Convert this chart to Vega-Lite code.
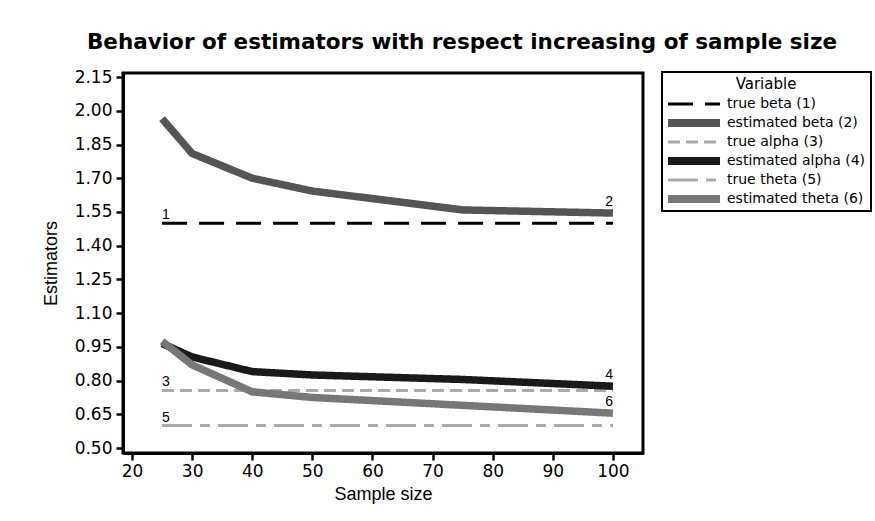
{
  "$schema": "https://vega.github.io/schema/vega-lite/v6.json",
  "width": 520,
  "height": 380,
  "autosize": "none",
  "padding": {"left": 123, "top": 73, "right": 232, "bottom": 68},
  "background": "white",
  "title": {
    "text": "Behavior of estimators with respect increasing of sample size",
    "font": "DejaVu Sans",
    "fontSize": 21.5,
    "fontWeight": "bold",
    "color": "black",
    "anchor": "middle",
    "dx": 79,
    "offset": 15
  },
  "datasets": {
    "lines": [
      {"n": 25, "value": 1.5, "variable": "true beta (1)"},
      {"n": 100, "value": 1.5, "variable": "true beta (1)"},
      {"n": 25, "value": 0.756, "variable": "true alpha (3)"},
      {"n": 100, "value": 0.756, "variable": "true alpha (3)"},
      {"n": 25, "value": 0.6, "variable": "true theta (5)"},
      {"n": 100, "value": 0.6, "variable": "true theta (5)"},
      {"n": 25, "value": 1.965, "variable": "estimated beta (2)"},
      {"n": 30, "value": 1.81, "variable": "estimated beta (2)"},
      {"n": 40, "value": 1.70, "variable": "estimated beta (2)"},
      {"n": 50, "value": 1.643, "variable": "estimated beta (2)"},
      {"n": 75, "value": 1.559, "variable": "estimated beta (2)"},
      {"n": 100, "value": 1.545, "variable": "estimated beta (2)"},
      {"n": 25, "value": 0.965, "variable": "estimated alpha (4)"},
      {"n": 30, "value": 0.905, "variable": "estimated alpha (4)"},
      {"n": 40, "value": 0.84, "variable": "estimated alpha (4)"},
      {"n": 50, "value": 0.825, "variable": "estimated alpha (4)"},
      {"n": 75, "value": 0.805, "variable": "estimated alpha (4)"},
      {"n": 100, "value": 0.775, "variable": "estimated alpha (4)"},
      {"n": 25, "value": 0.975, "variable": "estimated theta (6)"},
      {"n": 30, "value": 0.87, "variable": "estimated theta (6)"},
      {"n": 40, "value": 0.75, "variable": "estimated theta (6)"},
      {"n": 50, "value": 0.725, "variable": "estimated theta (6)"},
      {"n": 75, "value": 0.69, "variable": "estimated theta (6)"},
      {"n": 100, "value": 0.655, "variable": "estimated theta (6)"}
    ],
    "labels": [
      {"n": 25, "value": 1.5, "label": "1"},
      {"n": 100, "value": 1.545, "label": "2"},
      {"n": 25, "value": 0.756, "label": "3"},
      {"n": 100, "value": 0.775, "label": "4"},
      {"n": 25, "value": 0.6, "label": "5"},
      {"n": 100, "value": 0.655, "label": "6"}
    ]
  },
  "encoding": {
    "x": {
      "field": "n",
      "type": "quantitative",
      "scale": {"domain": [18.5, 105], "nice": false, "zero": false},
      "axis": {"values": [20, 30, 40, 50, 60, 70, 80, 90, 100], "title": "Sample size", "labelPadding": 3, "titlePadding": 6}
    },
    "y": {
      "field": "value",
      "type": "quantitative",
      "scale": {"domain": [0.478, 2.168], "nice": false, "zero": false},
      "axis": {
        "values": [0.5, 0.65, 0.8, 0.95, 1.1, 1.25, 1.4, 1.55, 1.7, 1.85, 2.0, 2.15],
        "format": ".2f",
        "title": "Estimators",
        "labelPadding": 4,
        "titlePadding": 14
      }
    }
  },
  "layer": [
    {
      "data": {"name": "lines"},
      "transform": [{"filter": "indexof(datum.variable, 'true') == 0"}],
      "mark": {"type": "line", "strokeWidth": 3},
      "encoding": {
        "color": {
          "field": "variable",
          "type": "nominal",
          "scale": {
            "domain": ["true beta (1)", "estimated beta (2)", "true alpha (3)", "estimated alpha (4)", "true theta (5)", "estimated theta (6)"],
            "range": ["#000000", "#555555", "#aaaaaa", "#1a1a1a", "#aaaaaa", "#777777"]
          },
          "legend": {
            "title": "Variable",
            "encode": {
              "legend": {"update": {"strokeWidth": {"value": 2}}},
              "symbols": {"update": {"strokeWidth": {"signal": "test(/estimated/, datum.value) ? 8 : 3"}, "strokeJoin": {"value": "round"}}}
            }
          }
        },
        "strokeDash": {
          "field": "variable",
          "type": "nominal",
          "scale": {
            "domain": ["true beta (1)", "estimated beta (2)", "true alpha (3)", "estimated alpha (4)", "true theta (5)", "estimated theta (6)"],
            "range": [[25, 12], [1, 0], [12, 6], [1, 0], [30, 8, 10, 8], [1, 0]]
          },
          "legend": {"title": "Variable"}
        }
      }
    },
    {
      "data": {"name": "lines"},
      "transform": [{"filter": "indexof(datum.variable, 'estimated') == 0"}],
      "mark": {"type": "line", "strokeWidth": 7.5},
      "encoding": {
        "color": {"field": "variable", "type": "nominal"},
        "strokeDash": {"field": "variable", "type": "nominal"}
      }
    },
    {
      "data": {"name": "labels"},
      "transform": [{"filter": "datum.n == 25"}],
      "mark": {"type": "text", "align": "left", "baseline": "alphabetic", "dy": -4, "font": "Liberation Sans", "fontSize": 14, "color": "black"},
      "encoding": {"text": {"field": "label"}}
    },
    {
      "data": {"name": "labels"},
      "transform": [{"filter": "datum.n == 100"}],
      "mark": {"type": "text", "align": "right", "baseline": "alphabetic", "dy": -7, "font": "Liberation Sans", "fontSize": 14, "color": "black"},
      "encoding": {"text": {"field": "label"}}
    }
  ],
  "resolve": {"scale": {"color": "shared", "strokeDash": "shared"}},
  "config": {
    "view": {"stroke": "black", "strokeWidth": 3},
    "axis": {
      "grid": false,
      "domainColor": "black",
      "domainWidth": 3,
      "tickColor": "black",
      "tickWidth": 2.5,
      "tickSize": 7,
      "labelFont": "DejaVu Sans",
      "labelFontSize": 17,
      "labelColor": "black",
      "titleFont": "Liberation Sans",
      "titleFontSize": 18,
      "titleFontWeight": "normal",
      "titleColor": "black"
    },
    "legend": {
      "orient": "none",
      "legendX": 539,
      "legendY": -1,
      "strokeColor": "black",
      "padding": 5,
      "titleFont": "DejaVu Sans",
      "titleFontSize": 15,
      "titleFontWeight": "normal",
      "titleColor": "black",
      "titleAnchor": "middle",
      "titlePadding": 5,
      "labelFont": "DejaVu Sans",
      "labelFontSize": 14,
      "labelColor": "black",
      "labelLimit": 250,
      "symbolType": "M-6.5,0H6.5",
      "symbolSize": 64,
      "symbolStrokeWidth": 1,
      "symbolOffset": 20,
      "labelOffset": 26,
      "rowPadding": 5
    }
  }
}
